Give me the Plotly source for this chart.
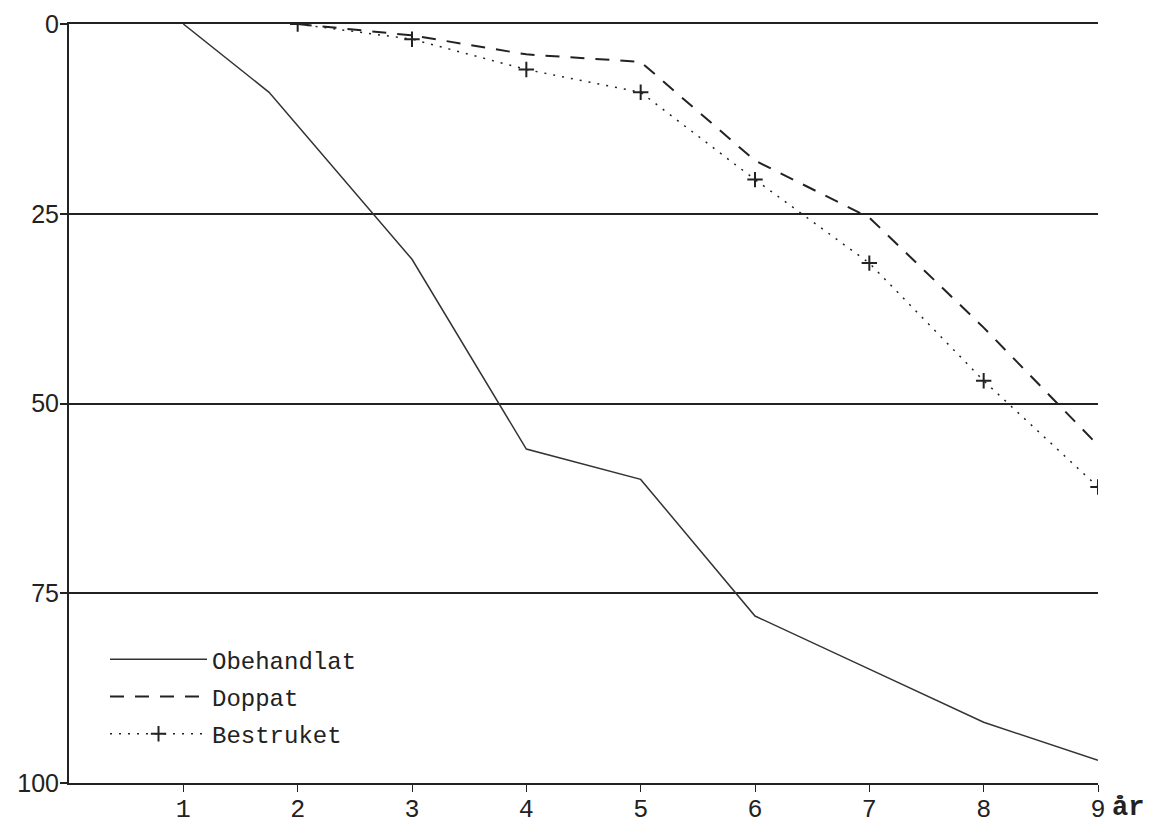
import plotly.graph_objects as go

# Data
obe_x = [1, 1.75, 3, 4, 5, 6, 7, 8, 9]
obe_y = [0, 9, 31, 56, 60, 78, 85, 92, 97]
dop_x = [2, 3, 4, 5, 6, 7, 8, 9]
dop_y = [0, 1.5, 4, 5, 18, 25.5, 40, 55.5]
bes_x = [2, 3, 4, 5, 6, 7, 8, 9]
bes_y = [0, 2, 6, 9, 20.5, 31.5, 47, 61]

x_ticks = [1, 2, 3, 4, 5, 6, 7, 8, 9]
y_ticks = [0, 25, 50, 75, 100]

MONO = "Liberation Mono, Courier New, monospace"
SANS = "Liberation Sans, Arial, sans-serif"

fig = go.Figure()
fig.add_trace(go.Scatter(x=obe_x, y=obe_y, mode="lines", name="Obehandlat",
                         legendgroup="a",
                         line=dict(color="#333", width=1.5)))
fig.add_trace(go.Scatter(x=dop_x, y=dop_y, mode="lines", name="Doppat",
                         legendgroup="b",
                         line=dict(color="#222", width=2, dash="14px,11px")))
fig.add_trace(go.Scatter(x=bes_x, y=bes_y, mode="lines+markers", name="Bestruket",
                         legendgroup="c",
                         line=dict(color="#222", width=1.5, dash="2px,7px"),
                         marker=dict(symbol="cross-thin-open", size=11,
                                     line=dict(color="#222", width=2))))

fig.update_layout(
    width=1167, height=827,
    margin=dict(l=61, r=77, t=16, b=52),
    paper_bgcolor="white", plot_bgcolor="white",
    showlegend=True,
    legend=dict(x=0.035, y=0.192, xanchor="left", yanchor="top",
                bgcolor="rgba(0,0,0,0)", itemwidth=97,
                traceorder="grouped", tracegroupgap=3,
                font=dict(family=MONO, size=24, color="#222")),
    annotations=[dict(text="<b>år</b>", xref="paper", yref="paper",
                      x=1.0, y=0, xanchor="left", yanchor="middle",
                      xshift=12, yshift=-25, showarrow=False,
                      font=dict(family=MONO, size=27, color="#222"))],
)
fig.update_xaxes(range=[0, 9], tickvals=x_ticks, ticktext=[str(v) for v in x_ticks],
                 automargin=False,
                 showgrid=False, zeroline=False,
                 showline=True, mirror=True, linecolor="#222", linewidth=2,
                 ticks="outside", ticklen=7, tickwidth=1, tickcolor="#222",
                 ticklabelstandoff=-5,
                 tickfont=dict(family=MONO, size=25, color="#222"))
fig.update_yaxes(range=[100, 0], tickvals=y_ticks, ticktext=[str(v) for v in y_ticks],
                 automargin=False,
                 showgrid=True, gridcolor="#222", gridwidth=2, zeroline=False,
                 showline=True, linecolor="#222", linewidth=2,
                 ticks="outside", ticklen=7, tickwidth=1.5, tickcolor="#222",
                 ticklabelstandoff=-4,
                 tickfont=dict(family=SANS, size=25, color="#222"))

fig.write_html("out.html")
